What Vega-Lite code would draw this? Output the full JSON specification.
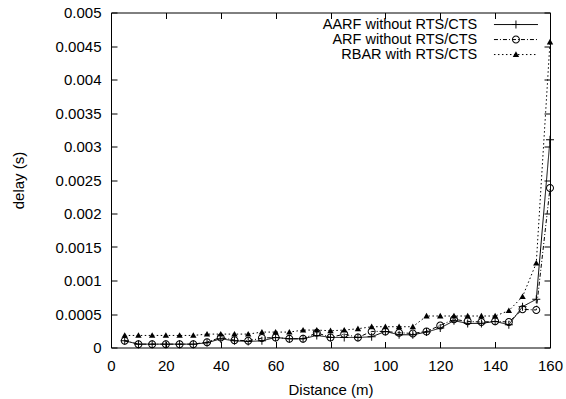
{
  "$schema": "https://vega.github.io/schema/vega-lite/v6.json",
  "width": 439,
  "height": 335,
  "autosize": {"type": "none"},
  "padding": {"left": 111, "top": 12.5, "right": 16, "bottom": 51.5},
  "background": "white",
  "config": {
    "view": {"stroke": "black", "strokeWidth": 1},
    "axis": {
      "domain": false,
      "offset": -6,
      "tickSize": 6,
      "ticks": true,
      "tickColor": "black",
      "tickWidth": 1,
      "labelColor": "black",
      "titleColor": "black",
      "labelFont": "Liberation Sans",
      "titleFont": "Liberation Sans",
      "labelFontSize": 15,
      "titleFontSize": 15,
      "titleFontWeight": "normal",
      "grid": false,
      "labelFlush": false,
      "labelOverlap": false
    }
  },
  "data": {
    "values": [
      {"d": 5, "s": "AARF without RTS/CTS", "v": 0.0001},
      {"d": 10, "s": "AARF without RTS/CTS", "v": 0.00005},
      {"d": 15, "s": "AARF without RTS/CTS", "v": 0.00005},
      {"d": 20, "s": "AARF without RTS/CTS", "v": 0.00005},
      {"d": 25, "s": "AARF without RTS/CTS", "v": 0.00005},
      {"d": 30, "s": "AARF without RTS/CTS", "v": 0.00005},
      {"d": 35, "s": "AARF without RTS/CTS", "v": 0.00007},
      {"d": 40, "s": "AARF without RTS/CTS", "v": 0.00013},
      {"d": 45, "s": "AARF without RTS/CTS", "v": 0.0001},
      {"d": 50, "s": "AARF without RTS/CTS", "v": 0.00009},
      {"d": 55, "s": "AARF without RTS/CTS", "v": 0.0001},
      {"d": 60, "s": "AARF without RTS/CTS", "v": 0.00015},
      {"d": 65, "s": "AARF without RTS/CTS", "v": 0.00013},
      {"d": 70, "s": "AARF without RTS/CTS", "v": 0.00013},
      {"d": 75, "s": "AARF without RTS/CTS", "v": 0.00018},
      {"d": 80, "s": "AARF without RTS/CTS", "v": 0.00015},
      {"d": 85, "s": "AARF without RTS/CTS", "v": 0.00015},
      {"d": 90, "s": "AARF without RTS/CTS", "v": 0.00015},
      {"d": 95, "s": "AARF without RTS/CTS", "v": 0.00016},
      {"d": 100, "s": "AARF without RTS/CTS", "v": 0.00024},
      {"d": 105, "s": "AARF without RTS/CTS", "v": 0.00019},
      {"d": 110, "s": "AARF without RTS/CTS", "v": 0.00019},
      {"d": 115, "s": "AARF without RTS/CTS", "v": 0.00023},
      {"d": 120, "s": "AARF without RTS/CTS", "v": 0.00029},
      {"d": 125, "s": "AARF without RTS/CTS", "v": 0.0004},
      {"d": 130, "s": "AARF without RTS/CTS", "v": 0.00036},
      {"d": 135, "s": "AARF without RTS/CTS", "v": 0.00036},
      {"d": 140, "s": "AARF without RTS/CTS", "v": 0.00039},
      {"d": 145, "s": "AARF without RTS/CTS", "v": 0.00034},
      {"d": 150, "s": "AARF without RTS/CTS", "v": 0.00061},
      {"d": 155, "s": "AARF without RTS/CTS", "v": 0.00072},
      {"d": 160, "s": "AARF without RTS/CTS", "v": 0.0031},
      {"d": 5, "s": "ARF without RTS/CTS", "v": 0.0001},
      {"d": 10, "s": "ARF without RTS/CTS", "v": 0.00005},
      {"d": 15, "s": "ARF without RTS/CTS", "v": 0.00005},
      {"d": 20, "s": "ARF without RTS/CTS", "v": 0.00005},
      {"d": 25, "s": "ARF without RTS/CTS", "v": 0.00005},
      {"d": 30, "s": "ARF without RTS/CTS", "v": 0.00005},
      {"d": 35, "s": "ARF without RTS/CTS", "v": 0.00008},
      {"d": 40, "s": "ARF without RTS/CTS", "v": 0.00015},
      {"d": 45, "s": "ARF without RTS/CTS", "v": 0.00011},
      {"d": 50, "s": "ARF without RTS/CTS", "v": 0.0001},
      {"d": 55, "s": "ARF without RTS/CTS", "v": 0.00014},
      {"d": 60, "s": "ARF without RTS/CTS", "v": 0.00015},
      {"d": 65, "s": "ARF without RTS/CTS", "v": 0.00013},
      {"d": 70, "s": "ARF without RTS/CTS", "v": 0.00013},
      {"d": 75, "s": "ARF without RTS/CTS", "v": 0.00022},
      {"d": 80, "s": "ARF without RTS/CTS", "v": 0.00015},
      {"d": 85, "s": "ARF without RTS/CTS", "v": 0.0002},
      {"d": 90, "s": "ARF without RTS/CTS", "v": 0.00015},
      {"d": 95, "s": "ARF without RTS/CTS", "v": 0.00024},
      {"d": 100, "s": "ARF without RTS/CTS", "v": 0.00024},
      {"d": 105, "s": "ARF without RTS/CTS", "v": 0.00022},
      {"d": 110, "s": "ARF without RTS/CTS", "v": 0.00021},
      {"d": 115, "s": "ARF without RTS/CTS", "v": 0.00024},
      {"d": 120, "s": "ARF without RTS/CTS", "v": 0.00033},
      {"d": 125, "s": "ARF without RTS/CTS", "v": 0.00042},
      {"d": 130, "s": "ARF without RTS/CTS", "v": 0.00039},
      {"d": 135, "s": "ARF without RTS/CTS", "v": 0.00038},
      {"d": 140, "s": "ARF without RTS/CTS", "v": 0.00039},
      {"d": 145, "s": "ARF without RTS/CTS", "v": 0.00038},
      {"d": 150, "s": "ARF without RTS/CTS", "v": 0.00057},
      {"d": 155, "s": "ARF without RTS/CTS", "v": 0.00056},
      {"d": 160, "s": "ARF without RTS/CTS", "v": 0.00238},
      {"d": 5, "s": "RBAR with RTS/CTS", "v": 0.00018},
      {"d": 10, "s": "RBAR with RTS/CTS", "v": 0.00018},
      {"d": 15, "s": "RBAR with RTS/CTS", "v": 0.00018},
      {"d": 20, "s": "RBAR with RTS/CTS", "v": 0.00018},
      {"d": 25, "s": "RBAR with RTS/CTS", "v": 0.00018},
      {"d": 30, "s": "RBAR with RTS/CTS", "v": 0.00018},
      {"d": 35, "s": "RBAR with RTS/CTS", "v": 0.0002},
      {"d": 40, "s": "RBAR with RTS/CTS", "v": 0.0002},
      {"d": 45, "s": "RBAR with RTS/CTS", "v": 0.0002},
      {"d": 50, "s": "RBAR with RTS/CTS", "v": 0.0002},
      {"d": 55, "s": "RBAR with RTS/CTS", "v": 0.00023},
      {"d": 60, "s": "RBAR with RTS/CTS", "v": 0.00023},
      {"d": 65, "s": "RBAR with RTS/CTS", "v": 0.00023},
      {"d": 70, "s": "RBAR with RTS/CTS", "v": 0.00026},
      {"d": 75, "s": "RBAR with RTS/CTS", "v": 0.00026},
      {"d": 80, "s": "RBAR with RTS/CTS", "v": 0.00025},
      {"d": 85, "s": "RBAR with RTS/CTS", "v": 0.00026},
      {"d": 90, "s": "RBAR with RTS/CTS", "v": 0.00028},
      {"d": 95, "s": "RBAR with RTS/CTS", "v": 0.00031},
      {"d": 100, "s": "RBAR with RTS/CTS", "v": 0.00031},
      {"d": 105, "s": "RBAR with RTS/CTS", "v": 0.00031},
      {"d": 110, "s": "RBAR with RTS/CTS", "v": 0.00031},
      {"d": 115, "s": "RBAR with RTS/CTS", "v": 0.00047},
      {"d": 120, "s": "RBAR with RTS/CTS", "v": 0.00047},
      {"d": 125, "s": "RBAR with RTS/CTS", "v": 0.00047},
      {"d": 130, "s": "RBAR with RTS/CTS", "v": 0.00047},
      {"d": 135, "s": "RBAR with RTS/CTS", "v": 0.00047},
      {"d": 140, "s": "RBAR with RTS/CTS", "v": 0.00047},
      {"d": 145, "s": "RBAR with RTS/CTS", "v": 0.00055},
      {"d": 150, "s": "RBAR with RTS/CTS", "v": 0.00076},
      {"d": 155, "s": "RBAR with RTS/CTS", "v": 0.00126},
      {"d": 160, "s": "RBAR with RTS/CTS", "v": 0.00456}
    ]
  },
  "layer": [
    {
      "mark": {"type": "line", "color": "black", "stroke": "black", "strokeWidth": 1},
      "encoding": {
        "x": {
          "field": "d",
          "type": "quantitative",
          "scale": {"domain": [0, 160], "nice": false, "zero": false},
          "axis": {
            "orient": "bottom",
            "values": [0, 20, 40, 60, 80, 100, 120, 140, 160],
            "title": "Distance (m)",
            "labelBaseline": "alphabetic",
            "labelPadding": 22.5,
            "titleBaseline": "alphabetic",
            "titleY": 53
          }
        },
        "y": {
          "field": "v",
          "type": "quantitative",
          "scale": {"domain": [0, 0.005], "nice": false},
          "axis": {
            "orient": "left",
            "values": [0, 0.0005, 0.001, 0.0015, 0.002, 0.0025, 0.003, 0.0035, 0.004, 0.0045, 0.005],
            "format": "~g",
            "title": "delay (s)",
            "labelPadding": 10,
            "titleX": -91,
            "titleY": 167.5
          }
        },
        "strokeDash": {
          "field": "s",
          "type": "nominal",
          "scale": {"range": [[1, 0], [4, 2, 1, 2], [1.5, 2.5]]},
          "legend": {
            "title": null,
            "orient": "none",
            "legendX": 397.7,
            "legendY": 4.8,
            "padding": 0,
            "symbolType": "M-12,0H12",
            "symbolSize": 13.44,
            "symbolStrokeColor": "black",
            "symbolStrokeWidth": 1,
            "labelAlign": "right",
            "labelOffset": -46,
            "labelFont": "Liberation Sans",
            "labelFontSize": 14.5,
            "labelColor": "black",
            "labelLimit": 400,
            "rowPadding": 0
          }
        }
      }
    },
    {
      "mark": {"type": "point", "filled": true, "color": "black", "fill": "black", "strokeWidth": 0, "size": 64, "opacity": 1},
      "encoding": {
        "x": {
          "field": "d",
          "type": "quantitative",
          "scale": {"domain": [0, 160], "nice": false, "zero": false},
          "axis": {
            "orient": "top",
            "values": [0, 20, 40, 60, 80, 100, 120, 140, 160],
            "labels": false,
            "title": null
          }
        },
        "y": {
          "field": "v",
          "type": "quantitative",
          "scale": {"domain": [0, 0.005], "nice": false},
          "axis": {
            "orient": "right",
            "values": [0, 0.0005, 0.001, 0.0015, 0.002, 0.0025, 0.003, 0.0035, 0.004, 0.0045, 0.005],
            "labels": false,
            "title": null
          }
        },
        "shape": {
          "field": "s",
          "type": "nominal",
          "scale": {
            "domain": ["AARF without RTS/CTS", "ARF without RTS/CTS", "RBAR with RTS/CTS"],
            "range": [
              "M-1,-0.12H1V0.12H-1ZM-0.12,-1H0.12V1H-0.12Z",
              "M-1,0A1,1,0,1,1,1,0A1,1,0,1,1,-1,0ZM-0.75,0A0.75,0.75,0,1,0,0.75,0A0.75,0.75,0,1,0,-0.75,0Z",
              "M0,-0.8L0.8,0.6L-0.8,0.6Z"
            ]
          },
          "legend": {
            "title": null,
            "orient": "none",
            "legendX": 397.7,
            "legendY": 4.8,
            "padding": 0,
            "symbolSize": 64,
            "symbolFillColor": "black",
            "symbolStrokeWidth": 0,
            "labelExpr": "' '",
            "labelFont": "Liberation Sans",
            "labelFontSize": 14.5,
            "rowPadding": 0
          }
        }
      }
    }
  ],
  "resolve": {"axis": {"x": "independent", "y": "independent"}}
}
